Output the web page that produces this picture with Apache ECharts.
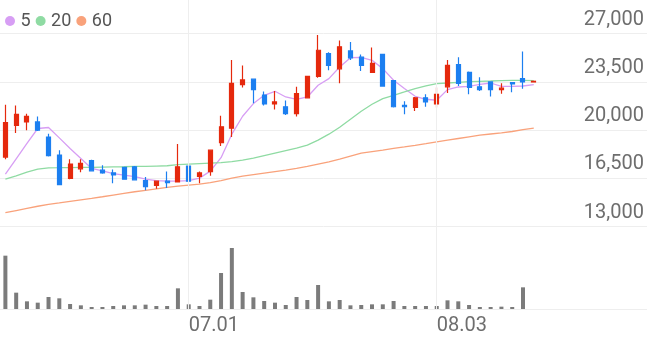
<!DOCTYPE html>
<html><head><meta charset="utf-8">
<script src="https://cdn.jsdelivr.net/npm/echarts@6/dist/echarts.min.js"></script>
<style>html,body{margin:0;padding:0;background:#fff}#c{width:647px;height:337px}</style>
</head><body><div id="c"></div>
<script>
const dates = ['06.08','06.09','06.10','06.11','06.12','06.15','06.16','06.17','06.18','06.19','06.22','06.23','06.24','06.25','06.26','06.29','06.30','07.01','07.02','07.03','07.06','07.07','07.08','07.09','07.10','07.13','07.14','07.15','07.16','07.17','07.20','07.21','07.22','07.23','07.24','07.27','07.28','07.29','07.30','07.31','08.03','08.04','08.05','08.06','08.07','08.10','08.11','08.12','08.13','08.14'];
const opens  = [18050,20350,20600,20600,19500,18200,16500,17200,17800,17100,16900,17300,17350,16350,16000,16300,16250,17400,16650,17000,19100,20150,23300,23700,22550,21900,21700,21200,22350,23900,25550,24450,25750,25300,24200,25500,23600,21800,21650,22350,21900,23150,24750,24200,23150,23500,22950,23450,23750,23500];
const highs  = [21850,21800,21200,21000,19750,18550,17900,17900,17850,17450,17150,17350,17400,16600,16350,17000,19000,17450,17000,18600,21050,25100,24700,23750,22800,22850,22150,23150,23950,26900,25650,26500,26400,25500,26000,25550,23650,22100,22400,22600,23100,25100,25300,24250,23850,23550,23400,23500,25700,23550];
const lows   = [17900,19800,20000,19950,18100,16000,16450,16950,17000,16850,16150,16400,16350,15650,15750,15800,16200,16250,16150,16700,18850,19500,23100,21950,21800,21500,21100,21000,22300,23800,24350,23400,25100,24300,24150,23150,21650,21150,21400,21700,21650,22700,23200,22600,22850,22450,22650,22750,23000,23500];
const closes = [20550,21150,21000,20000,18150,16050,17550,17600,17050,16900,16750,16450,16400,15900,16300,16200,17350,16300,16900,18550,20250,23400,23650,22950,21900,22050,21200,22650,23900,25800,24700,26050,25250,24700,24850,23200,21700,21700,22350,22050,22600,24700,23400,23100,22950,22950,23050,23350,23500,23550];
const volumes = [1600000,490000,230000,190000,360000,320000,150000,110000,60000,60000,90000,110000,110000,130000,90000,90000,620000,140000,90000,280000,1080000,1830000,510000,350000,240000,190000,120000,360000,270000,720000,230000,270000,110000,120000,140000,140000,240000,90000,90000,90000,90000,260000,230000,120000,60000,60000,70000,60000,650000,0];
const ma5  = [16815,17923,19037,20123,20196,19443,18675,17952,17228,17054,16851,16743,16634,16453,16344,16308,16308,16344,16525,17032,18009,19711,21014,21933,22534,22823,22411,22244,22411,23258,23743,24582,25263,25285,25067,24467,23620,23019,22461,22244,22172,22946,23135,23185,23330,23424,23185,23185,23207,23308];
const ma20 = [16453,16692,16960,17177,17271,17280,17290,17300,17300,17320,17340,17350,17370,17380,17400,17420,17503,17539,17575,17611,17647,17720,17828,17973,18154,18335,18516,18697,18914,19276,19711,20217,20796,21375,21882,22295,22534,22773,23019,23207,23381,23424,23475,23526,23547,23569,23598,23620,23620,23598];
const ma60 = [14013,14173,14332,14484,14622,14730,14839,14947,15056,15172,15295,15418,15534,15642,15744,15845,15946,16019,16091,16200,16344,16525,16670,16779,16887,16996,17105,17228,17372,17539,17705,17901,18118,18335,18444,18552,18675,18784,18900,19023,19153,19276,19399,19522,19638,19725,19812,19906,20036,20145];
const priceTicks = [13000,16500,20000,23500,27000];
const xTickLabels = ['07.01','08.03'];
const maNames = ['5','20','60'];
const emptySlots = 10;

const axisCats = dates.concat(Array.from({length: emptySlots}, (_, i) => ' '.repeat(i + 1)));
const candleData = dates.map((d, i) => [opens[i], closes[i], lows[i], highs[i]]);

const RED = '#e5290d', BLUE = '#1c7ff0', GRID = '#eeeeee';
const MA_COLORS = ['#d79ef4', '#8fdba3', '#f9a27b'];
const FONT = 'Roboto';

const chart = echarts.init(document.getElementById('c'), null, {renderer: 'canvas'});
const maSeries = [ma5, ma20, ma60].map((arr, k) => ({
  name: maNames[k], type: 'line', xAxisIndex: 0, yAxisIndex: 0, data: arr,
  showSymbol: false, symbol: 'circle', smooth: false, silent: true,
  lineStyle: {color: MA_COLORS[k], width: 1.3},
  itemStyle: {color: MA_COLORS[k]}, z: 2
}));
chart.setOption({
  animation: false,
  backgroundColor: '#fff',
  legend: {
    data: maNames, left: 0, top: 7, icon: 'circle', itemWidth: 11, itemHeight: 10, itemGap: 5,
    selectedMode: false,
    textStyle: {fontFamily: FONT, fontSize: 18, color: '#555'}
  },
  grid: [
    {left: 0, right: 0, top: 33.7, height: 193},
    {left: 0, right: 0, top: 234, height: 75},
    {left: 0, right: 0, top: 0, height: 309}
  ],
  xAxis: [
    {type: 'category', gridIndex: 0, data: axisCats, boundaryGap: true,
     axisLine: {show: false}, axisTick: {show: false}, axisLabel: {show: false}, splitLine: {show: false}},
    {type: 'category', gridIndex: 1, data: axisCats, boundaryGap: true,
     axisLine: {show: true, lineStyle: {color: GRID, width: 1}}, axisTick: {show: false},
     axisLabel: {show: true, interval: 0, align: 'left', margin: 7,
       fontFamily: FONT, fontSize: 20, color: '#6e6e6e',
       formatter: v => xTickLabels.includes(v) ? v : ''},
     splitLine: {show: false}},
    {type: 'category', gridIndex: 2, data: axisCats, boundaryGap: true, show: false}
  ],
  yAxis: [
    {type: 'value', gridIndex: 0, position: 'right', scale: true,
     min: priceTicks[0], max: priceTicks[priceTicks.length - 1], interval: priceTicks[1] - priceTicks[0],
     axisLine: {show: false}, axisTick: {show: false},
     axisLabel: {inside: true, margin: 3, verticalAlign: 'bottom', lineHeight: 28,
       fontFamily: FONT, fontSize: 20, color: '#6e6e6e',
       formatter: v => v.toLocaleString('en-US')},
     splitLine: {show: true, lineStyle: {color: GRID, width: 1}}},
    {type: 'value', gridIndex: 1, min: 0, max: 2250000, show: false, splitLine: {show: false}},
    {type: 'value', gridIndex: 2, min: 0, max: 1, show: false, splitLine: {show: false}}
  ],
  series: [
    {type: 'line', name: 'grid', xAxisIndex: 2, yAxisIndex: 2, data: [], silent: true, z: 0,
     markLine: {silent: true, symbol: 'none', animation: false, label: {show: false},
       lineStyle: {color: GRID, width: 1, type: 'solid'},
       emphasis: {disabled: true},
       data: xTickLabels.map(v => ({xAxis: v}))}},
    ...maSeries,
    {type: 'candlestick', name: 'price', xAxisIndex: 0, yAxisIndex: 0, data: candleData,
     barWidth: 4.5, silent: true, z: 3,
     itemStyle: {color: RED, color0: BLUE, borderColor: RED, borderColor0: BLUE, borderWidth: 1.2}},
    {type: 'bar', name: 'volume', xAxisIndex: 1, yAxisIndex: 1, data: volumes,
     barWidth: 4, silent: true, itemStyle: {color: '#7b7b7b'}}
  ]
});
</script></body></html>
